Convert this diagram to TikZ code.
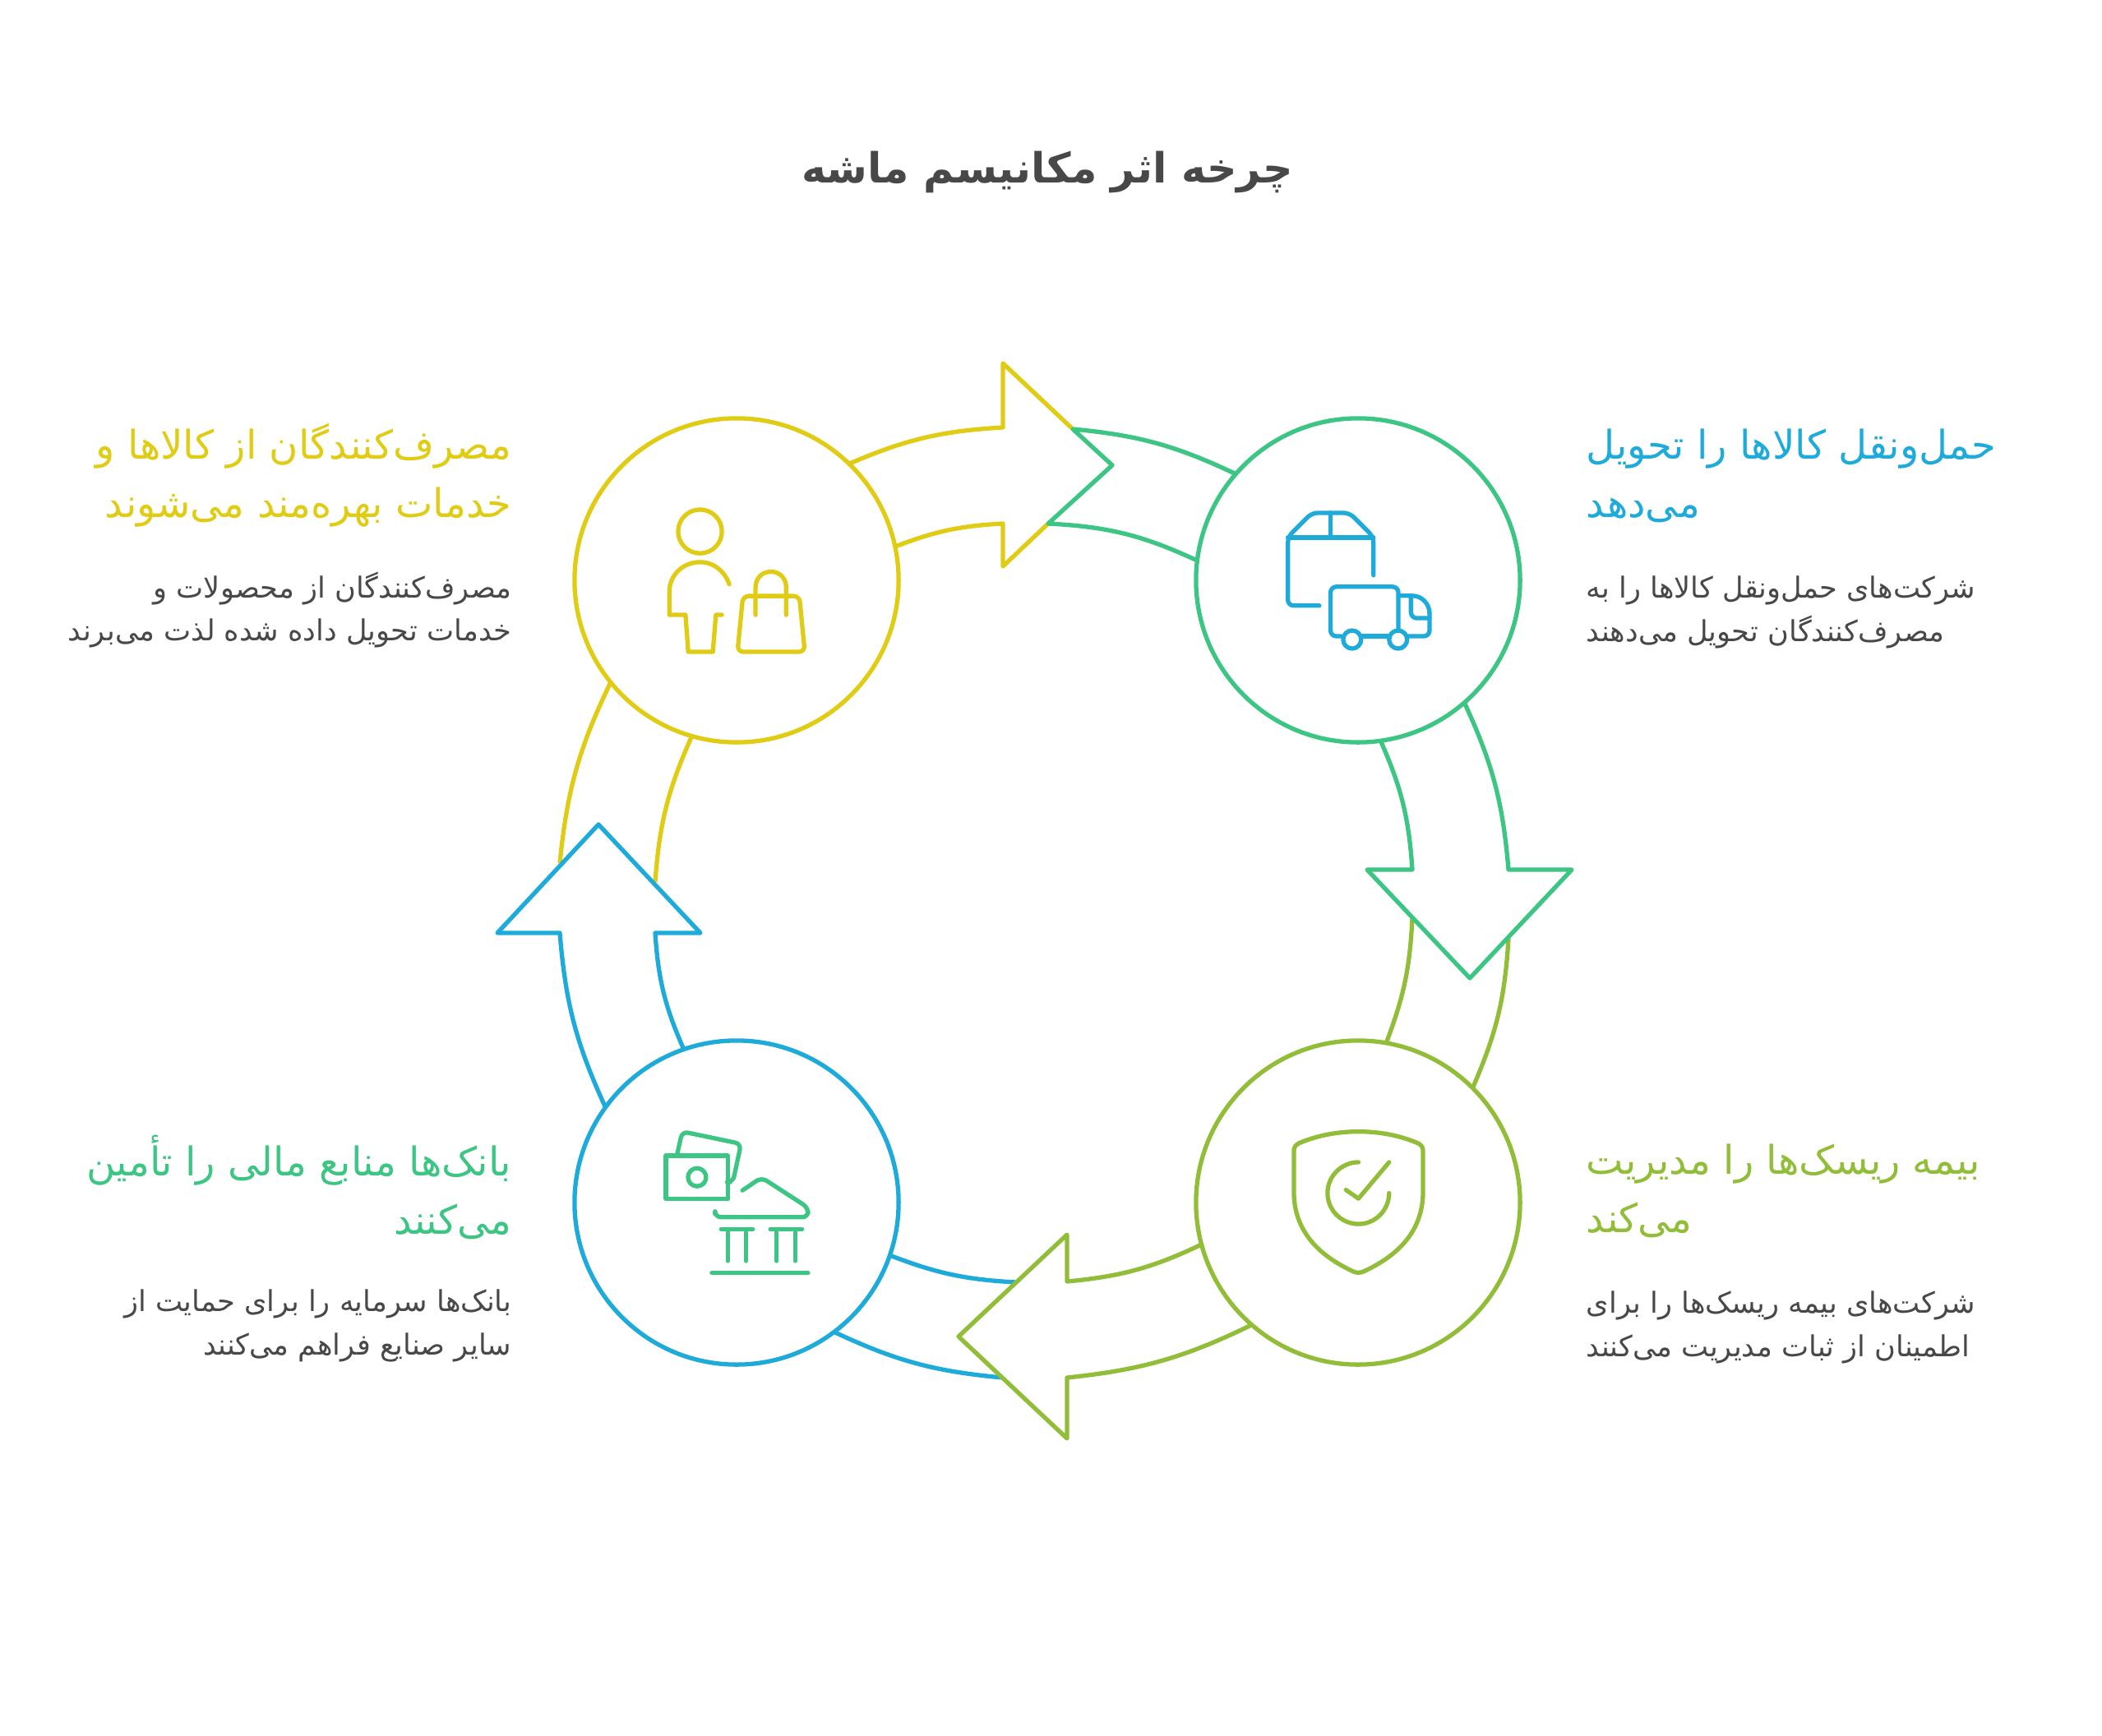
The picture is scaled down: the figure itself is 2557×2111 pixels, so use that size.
\documentclass[tikz,border=0pt]{standalone}
\usepackage{fontspec}
\TeXXeTstate=1
\newfontfamily\arabicfont[Script=Arabic]{DejaVu Sans}
\definecolor{ngold}{HTML}{E0CB15}
\definecolor{ngreen}{HTML}{3CC583}
\definecolor{nblue}{HTML}{1EABDA}
\definecolor{nlime}{HTML}{92BD39}
\definecolor{ngray}{HTML}{484848}
\newcommand{\rtl}[1]{\beginR #1\endR}
\tikzset{
  station/.style = {circle, draw, line width = 1.5pt, minimum size = 3.94cm, inner sep = 0pt, outer sep = 0pt},
  ringline/.style = {line width = 1.5pt, line join = round},
  iconline/.style = {line width = 1.5pt, line cap = round, line join = round},
  headline/.style = {font = \arabicfont\fontsize{13.7}{20.2}\selectfont},
  bodyline/.style = {font = \arabicfont\fontsize{10}{15}\selectfont, text = ngray},
}
\begin{document}
\begin{tikzpicture}[x = 0.01cm, y = -0.01cm]
\useasboundingbox (0,0) rectangle (2557,2111);
\node [font = \arabicfont\bfseries\fontsize{14.4}{18}\selectfont, text = ngray] (title) at (1274,209) {\rtl{چرخه اثر مکانیسم ماشه}};
\node [station, ngold] (consumer) at (896,706) {};
\node [station, ngreen] (transport) at (1652,706) {};
\node [station, nlime] (insurance) at (1652,1463) {};
\node [station, nblue] (bank) at (896,1463) {};
\coordinate (topA) at (1220,520); \coordinate (topB) at (1220,442); \coordinate (topTip) at (1353,566); \coordinate (topC) at (1220,689); \coordinate (topD) at (1220,637);
\coordinate (topE) at (1305,522); \coordinate (topF) at (1275,637);
\coordinate (rightA) at (1835,1058); \coordinate (rightB) at (1912,1058); \coordinate (rightTip) at (1788,1190); \coordinate (rightC) at (1663,1058); \coordinate (rightD) at (1718,1058);
\coordinate (rightE) at (1835,1142); \coordinate (rightF) at (1718,1117);
\coordinate (lowA) at (1298,1676); \coordinate (lowB) at (1298,1750); \coordinate (lowTip) at (1166,1626); \coordinate (lowC) at (1298,1502); \coordinate (lowD) at (1298,1559);
\coordinate (lowE) at (1220,1676); \coordinate (lowF) at (1236,1560);
\coordinate (leftA) at (681,1135); \coordinate (leftB) at (605,1135); \coordinate (leftTip) at (728,1003); \coordinate (leftC) at (852,1135); \coordinate (leftD) at (797,1135);
\coordinate (leftE) at (681,1050); \coordinate (leftF) at (797,1073);
\draw [ringline, ngold] (consumer.46) to [bend left = 10] (topA) -- (topB) -- (topE);
\draw [ringline, ngold] (topF) -- (topC) -- (topD) to [bend right = 9] (consumer.12);
\draw [ringline, ngold] (leftE) to [bend left = 10] (consumer.219);
\draw [ringline, ngold] (leftF) to [bend left = 10] (consumer.254);
\draw [ringline, nblue] (lowE) to [bend left = 10] (bank.307);
\draw [ringline, nblue] (lowF) to [bend left = 9] (bank.341);
\draw [ringline, nblue] (bank.144) to [bend left = 10] (leftA) -- (leftB) -- (leftTip) -- (leftC) -- (leftD) to [bend right = 10] (bank.109);
\draw [ringline, nlime] (rightE) to [bend left = 10] (insurance.45);
\draw [ringline, nlime] (rightF) to [bend left = 9] (insurance.80);
\draw [ringline, nlime] (insurance.229) to [bend left = 10] (lowA) -- (lowB) -- (lowTip) -- (lowC) -- (lowD) to [bend right = 10] (insurance.195);
\draw [ringline, ngreen] (transport.139) to [bend right = 10] (topE) -- (topTip) -- (topF) to [bend left = 11] (transport.173);
\draw [ringline, ngreen] (transport.311) to [bend left = 10] (rightA) -- (rightB) -- (rightTip) -- (rightC) -- (rightD) to [bend right = 10] (transport.278);
\node [headline, text = ngold, anchor = north east, align = right, inner sep = 0pt] (consumerTitle) at (623,515) {\rtl{مصرف‌کنندگان از کالاها و}\\\rtl{خدمات بهره‌مند می‌شوند}};
\node [bodyline, anchor = north east, align = right, inner sep = 0pt] (consumerText) at (623,695) {\rtl{مصرف‌کنندگان از محصولات و}\\\rtl{خدمات تحویل داده شده لذت می‌برند}};
\node [headline, text = nblue, anchor = north west, align = left, inner sep = 0pt] (transportTitle) at (1929,521) {\rtl{حمل‌ونقل کالاها را تحویل}\\\rtl{می‌دهد}};
\node [bodyline, anchor = north west, align = left, inner sep = 0pt] (transportText) at (1929,700) {\rtl{شرکت‌های حمل‌ونقل کالاها را به}\\\rtl{مصرف‌کنندگان تحویل می‌دهند}};
\node [headline, text = ngreen, anchor = north east, align = right, inner sep = 0pt] (bankTitle) at (623,1380) {\rtl{بانک‌ها منابع مالی را تأمین}\\\rtl{می‌کنند}};
\node [bodyline, anchor = north east, align = right, inner sep = 0pt] (bankText) at (623,1568) {\rtl{بانک‌ها سرمایه را برای حمایت از}\\\rtl{سایر صنایع فراهم می‌کنند}};
\node [headline, text = nlime, anchor = north west, align = left, inner sep = 0pt] (insuranceTitle) at (1929,1391) {\rtl{بیمه ریسک‌ها را مدیریت}\\\rtl{می‌کند}};
\node [bodyline, anchor = north west, align = left, inner sep = 0pt] (insuranceText) at (1929,1570) {\rtl{شرکت‌های بیمه ریسک‌ها را برای}\\\rtl{اطمینان از ثبات مدیریت می‌کنند}};
\begin{scope}[shift = {(760,580)}, x = 0.00333cm, y = -0.00333cm, iconline, ngold]
\draw (275,200) circle [radius = 80];
\draw (382,393) .. controls (365,345) and (325,312) .. (275,312) .. controls (212,312) and (163,360) .. (163,420) -- (163,505) -- (222,505) -- (232,640) -- (322,640) -- (333,505) -- (355,505);
\draw [rounded corners = 2pt] (432,436) -- (638,436) -- (658,640) -- (412,640) -- cycle;
\draw (478,505) -- (478,405) .. controls (478,370) and (503,347) .. (534,347) .. controls (565,347) and (590,370) .. (590,405) -- (590,505);
\end{scope}
\begin{scope}[shift = {(1530,590)}, x = 0.00333cm, y = -0.00333cm, iconline, nblue]
\draw [rounded corners = 2pt] (225,441) -- (110,441) -- (110,190) -- (198,102) -- (335,102) -- (423,190) -- (423,330);
\draw (110,192) -- (423,192);
\draw (266,102) -- (266,192);
\draw [rounded corners = 2pt] (305,553) -- (266,553) -- (266,372) -- (514,372) -- (514,530);
\draw (380,553) -- (478,553);
\draw [rounded corners = 2pt] (548,553) -- (628,553) -- (628,470);
\draw (514,405) -- (565,405) .. controls (600,405) and (628,435) .. (628,470);
\draw [rounded corners = 2pt] (560,405) -- (560,487) -- (628,487);
\draw (345,565) circle [radius = 33];
\draw (513,565) circle [radius = 33];
\end{scope}
\begin{scope}[shift = {(780,1350)}, x = 0.00333cm, y = -0.00333cm, iconline, ngreen]
\draw (90,168) rectangle (317,326);
\draw (204,247) circle [radius = 33];
\draw [rounded corners = 2pt] (132,160) -- (150,80) -- (365,125) -- (335,265) -- (325,265);
\draw [rounded corners = 2pt] (370,295) -- (440,248) -- (610,358) -- (610,393) -- (270,393) -- (270,382);
\draw (292,437) -- (408,437);
\draw (472,437) -- (588,437);
\draw (316,437) -- (316,553);
\draw (383,437) -- (383,553);
\draw (495,437) -- (495,553);
\draw (563,437) -- (563,553);
\draw (258,596) -- (610,596);
\end{scope}
\begin{scope}[shift = {(1540,1350)}, x = 0.00333cm, y = -0.00333cm, iconline, nlime]
\draw (338,80) .. controls (260,80) and (185,95) .. (122,122) .. controls (108,128) and (102,138) .. (102,150) -- (102,300) .. controls (102,470) and (230,550) .. (320,592) .. controls (332,597) and (344,597) .. (356,592) .. controls (446,550) and (574,470) .. (574,300) -- (574,150) .. controls (574,138) and (568,128) .. (554,122) .. controls (491,95) and (416,80) .. (338,80) -- cycle;
\draw (338,192) .. controls (276,192) and (225,243) .. (225,305) .. controls (225,367) and (276,418) .. (338,418) .. controls (400,418) and (450,367) .. (450,305);
\draw (292,293) -- (338,325) -- (450,192);
\end{scope}
\end{tikzpicture}
\end{document}
